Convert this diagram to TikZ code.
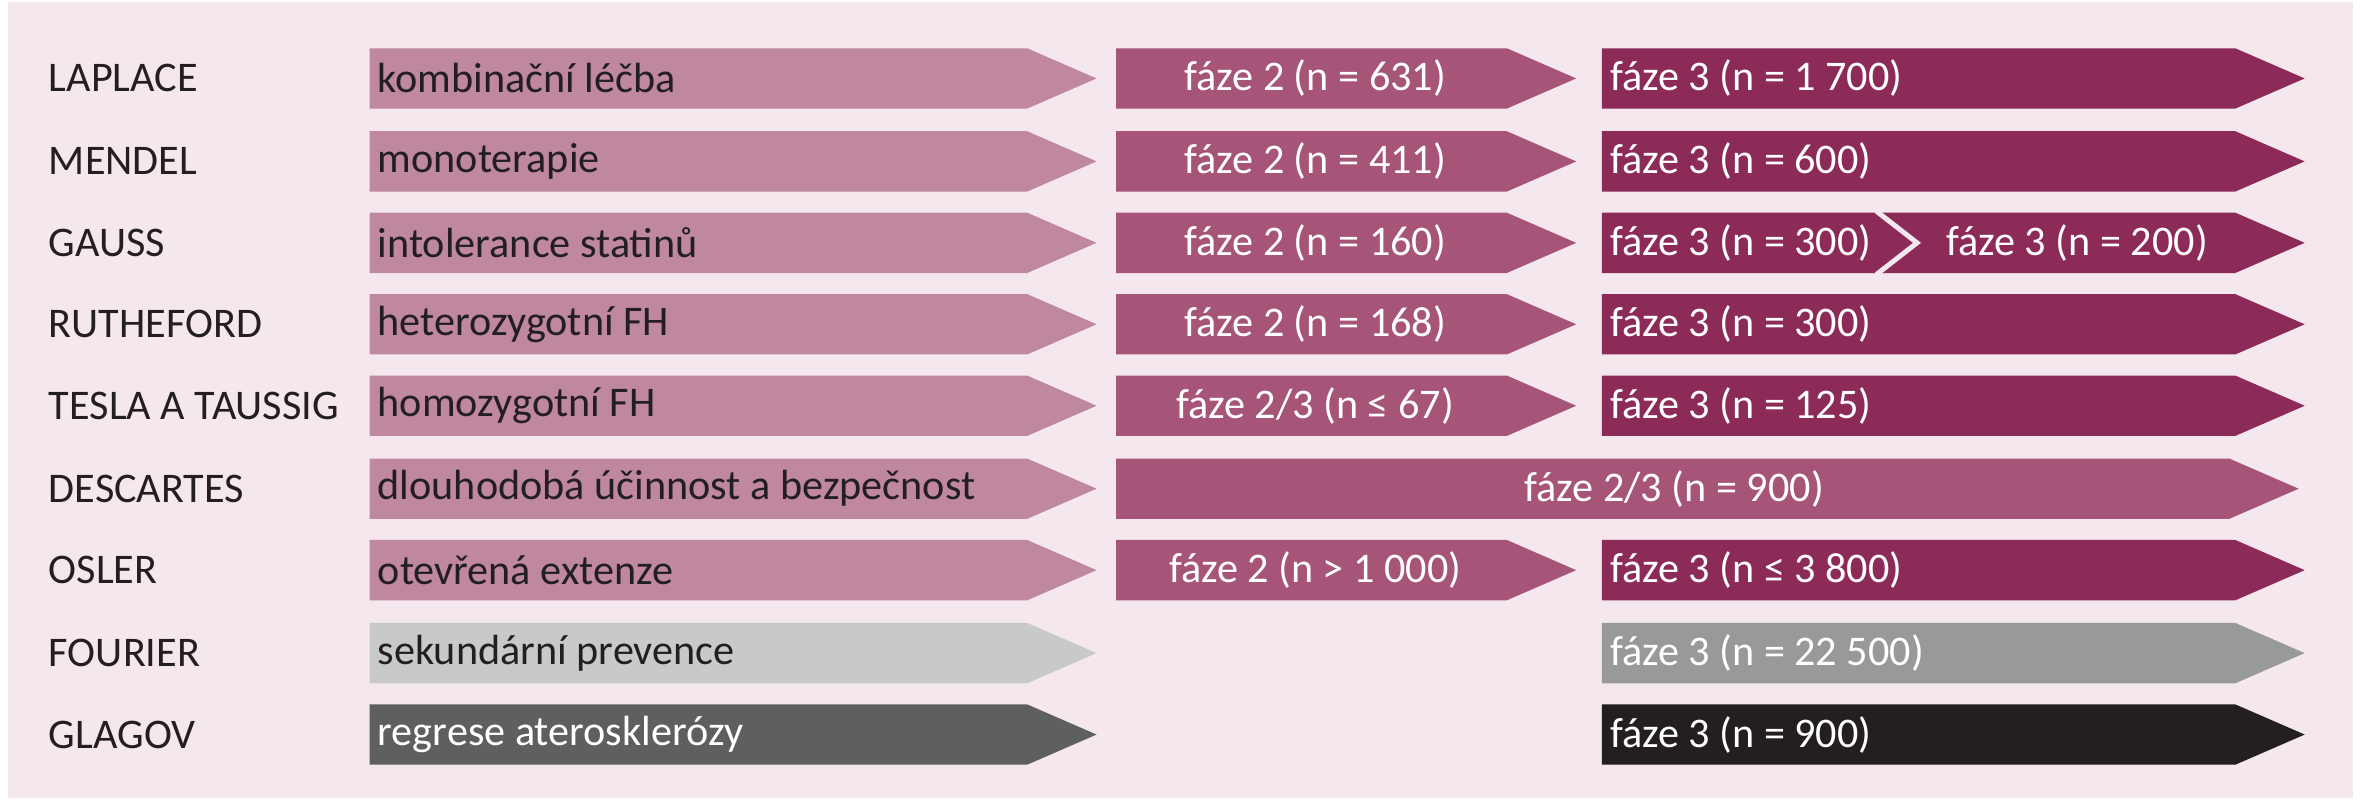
\documentclass[tikz,border=0pt]{standalone}
\usepackage{fontspec}
\setmainfont{Carlito}
\definecolor{bgpink}{HTML}{F4E7EE}
\definecolor{topic}{HTML}{BF87A0}
\definecolor{phasetwo}{HTML}{A65478}
\definecolor{phasethree}{HTML}{8C2A58}
\definecolor{greylight}{HTML}{C8C9CA}
\definecolor{greymid}{HTML}{98999B}
\definecolor{greydark}{HTML}{5E5F61}
\definecolor{nearblack}{HTML}{231F20}
\definecolor{inkdark}{HTML}{231F20}
\tikzset{
  study/.style={anchor=west, inner sep=0pt, text=inkdark, font=\fontsize{12}{14}\selectfont},
  lefttxt/.style={anchor=west, inner sep=0pt, font=\fontsize{12}{14}\selectfont},
  midtxt/.style={anchor=center, inner sep=0pt, font=\fontsize{12}{14}\selectfont},
}
% chevron bar: x1, x2 (tip), row centre y, colour
\newcommand{\chevbar}[4]{\fill[#4] (#1,#3-20) -- (#2-46,#3-20) -- (#2,#3) -- (#2-46,#3+20) -- (#1,#3+20) -- cycle;}
\begin{document}
\begin{tikzpicture}[x=0.015083cm, y=-0.015083cm]
    \useasboundingbox (0,0) rectangle (1568,530);
    \fill[white] (0,0) rectangle (1568,530);
    \fill[bgpink] (5,1) rectangle (1560,529);
    % column 1
    \chevbar{245}{727}{52}{topic}
    \chevbar{245}{727}{107}{topic}
    \chevbar{245}{727}{161}{topic}
    \chevbar{245}{727}{215}{topic}
    \chevbar{245}{727}{269}{topic}
    \chevbar{245}{727}{324}{topic}
    \chevbar{245}{727}{378}{topic}
    \chevbar{245}{727}{433}{greylight}
    \chevbar{245}{727}{487}{greydark}
    % column 2
    \chevbar{740}{1045}{52}{phasetwo}
    \chevbar{740}{1045}{107}{phasetwo}
    \chevbar{740}{1045}{161}{phasetwo}
    \chevbar{740}{1045}{215}{phasetwo}
    \chevbar{740}{1045}{269}{phasetwo}
    \chevbar{740}{1524}{324}{phasetwo}
    \chevbar{740}{1045}{378}{phasetwo}
    % column 3
    \chevbar{1062}{1528}{52}{phasethree}
    \chevbar{1062}{1528}{107}{phasethree}
    \chevbar{1062}{1528}{161}{phasethree}
    \draw[bgpink, line width=1.4pt] (1244,140) -- (1271,161) -- (1244,182);
    \chevbar{1062}{1528}{215}{phasethree}
    \chevbar{1062}{1528}{269}{phasethree}
    \chevbar{1062}{1528}{378}{phasethree}
    \chevbar{1062}{1528}{433}{greymid}
    \chevbar{1062}{1528}{487}{nearblack}
    % study names
    \node[study] (laplace) at (32,52) {LAPLACE};
    \node[study] (mendel) at (32,107) {MENDEL};
    \node[study] (gauss) at (32,161) {GAUSS};
    \node[study] (rutheford) at (32,215) {RUTHEFORD};
    \node[study] (tesla) at (32,269) {TESLA A TAUSSIG};
    \node[study] (descartes) at (32,324) {DESCARTES};
    \node[study] (osler) at (32,378) {OSLER};
    \node[study] (fourier) at (32,433) {FOURIER};
    \node[study] (glagov) at (32,487) {GLAGOV};
    % topics
    \node[lefttxt, text=inkdark] (t1) at (250,52) {kombinační léčba};
    \node[lefttxt, text=inkdark] (t2) at (250,107) {monoterapie};
    \node[lefttxt, text=inkdark] (t3) at (250,161) {intolerance statinů};
    \node[lefttxt, text=inkdark] (t4) at (250,215) {heterozygotní FH};
    \node[lefttxt, text=inkdark] (t5) at (250,269) {homozygotní FH};
    \node[lefttxt, text=inkdark] (t6) at (250,324) {dlouhodobá účinnost a bezpečnost};
    \node[lefttxt, text=inkdark] (t7) at (250,378) {otevřená extenze};
    \node[lefttxt, text=inkdark] (t8) at (250,433) {sekundární prevence};
    \node[lefttxt, text=white] (t9) at (250,487) {regrese aterosklerózy};
    % phase 2
    \node[midtxt, text=white] (p21) at (872,52) {fáze 2 (n = 631)};
    \node[midtxt, text=white] (p22) at (872,107) {fáze 2 (n = 411)};
    \node[midtxt, text=white] (p23) at (872,161) {fáze 2 (n = 160)};
    \node[midtxt, text=white] (p24) at (872,215) {fáze 2 (n = 168)};
    \node[midtxt, text=white] (p25) at (872,269) {fáze 2/3 (n ≤ 67)};
    \node[midtxt, text=white] (p26) at (1110,324) {fáze 2/3 (n = 900)};
    \node[midtxt, text=white] (p27) at (872,378) {fáze 2 (n > 1 000)};
    % phase 3
    \node[lefttxt, text=white] (p31) at (1067,52) {fáze 3 (n = 1 700)};
    \node[lefttxt, text=white] (p32) at (1067,107) {fáze 3 (n = 600)};
    \node[lefttxt, text=white] (p33) at (1067,161) {fáze 3 (n = 300)};
    \node[lefttxt, text=white] (p33b) at (1290,161) {fáze 3 (n = 200)};
    \node[lefttxt, text=white] (p34) at (1067,215) {fáze 3 (n = 300)};
    \node[lefttxt, text=white] (p35) at (1067,269) {fáze 3 (n = 125)};
    \node[lefttxt, text=white] (p37) at (1067,378) {fáze 3 (n ≤ 3 800)};
    \node[lefttxt, text=white] (p38) at (1067,433) {fáze 3 (n = 22 500)};
    \node[lefttxt, text=white] (p39) at (1067,487) {fáze 3 (n = 900)};
\end{tikzpicture}
\end{document}
